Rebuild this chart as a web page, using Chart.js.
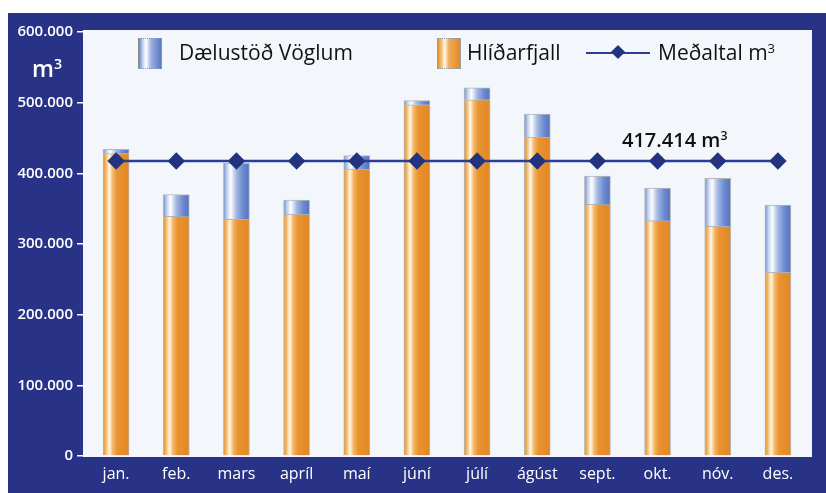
<!DOCTYPE html>
<html>
<head>
<meta charset="utf-8">
<script src="https://cdn.jsdelivr.net/npm/chart.js@4/dist/chart.umd.min.js"></script>
<style>
  html, body { margin: 0; padding: 0; background: #fff; }
  #wrap { position: relative; width: 826px; height: 493px; overflow: hidden; font-family: "Open Sans", "Noto Sans", sans-serif; }
  #frame { position: absolute; left: 8px; top: 13px; width: 818px; height: 480px; background: #283388; }
  #c { position: absolute; left: 0; top: 0; }
  .txt { position: absolute; white-space: nowrap; color: #111; font-weight: 500; }
  .sw { position: absolute; width: 24px; height: 31px; border: 1px dotted #999; box-sizing: border-box; }
  #unit { position: absolute; left: 32px; top: 52px; color: #fff; font-size: 23px; font-weight: 600; }
  #unit sup, .txt sup { font-size: 0.62em; vertical-align: 0.55em; }
</style>
</head>
<body>
<div id="wrap">
  <div id="frame"></div>
  <canvas id="c" width="826" height="493"></canvas>
  <div id="unit">m<sup>3</sup></div>

  <div class="sw" style="left:138px;top:38px;background:linear-gradient(to right,#6a88cf 0%,#d9e4f6 22%,#ffffff 32%,#9ab0e0 55%,#5a78c6 100%);"></div>
  <div class="txt" style="left:179px;top:38px;font-size:21px;">Dælustöð Vöglum</div>

  <div class="sw" style="left:437px;top:38px;background:linear-gradient(to right,#e68f2e 0%,#f8cf90 20%,#fff8e8 30%,#f1ab55 50%,#e58a27 100%);"></div>
  <div class="txt" style="left:467px;top:38px;font-size:21px;">Hlíðarfjall</div>

  <div style="position:absolute;left:586px;top:52px;width:64px;height:2px;background:#2b3d97;"></div>
  <div style="position:absolute;left:613px;top:47px;width:10px;height:10px;background:#22337f;transform:rotate(45deg);"></div>
  <div class="txt" style="left:658px;top:38px;font-size:21px;">Meðaltal m<sup>3</sup></div>

  <div class="txt" style="left:622px;top:126px;font-size:20px;font-weight:600;">417.414 m<sup>3</sup></div>
</div>
<script>
const months = ['jan.', 'feb.', 'mars', 'apríl', 'maí', 'júní', 'júlí', 'ágúst', 'sept.', 'okt.', 'nóv.', 'des.'];
const hlidarfjall = [428000, 339000, 335000, 342000, 406000, 497000, 504000, 451000, 356000, 333000, 325000, 260000];
const daelustod = [6000, 31000, 79000, 20000, 19000, 6000, 17000, 33000, 40000, 46000, 68000, 95000];
const average = [417414, 417414, 417414, 417414, 417414, 417414, 417414, 417414, 417414, 417414, 417414, 417414];
const yTicks = [0, 100000, 200000, 300000, 400000, 500000, 600000];

const BAR_W = 26;

// horizontal shine across each bar, built from the x scale position
function shine(stops, fallback) {
    return (ctx) => {
        const chart = ctx.chart;
        const xs = chart.scales && chart.scales.x;
        if (!xs || ctx.dataIndex === undefined) return fallback;
        const cx = xs.getPixelForValue(ctx.dataIndex);
        if (!isFinite(cx)) return fallback;
        const g = chart.ctx.createLinearGradient(cx - BAR_W / 2, 0, cx + BAR_W / 2, 0);
        stops.forEach(s => g.addColorStop(s[0], s[1]));
        return g;
    };
}

const orangeStops = [[0, '#e68f2e'], [0.1, '#f2b462'], [0.24, '#fff7e4'], [0.38, '#f4b564'], [0.55, '#e99330'], [1, '#e28723']];
const blueStops = [[0, '#7090d2'], [0.14, '#c4d4f0'], [0.28, '#ffffff'], [0.5, '#a3b8e3'], [0.75, '#6d8bd0'], [1, '#5472c2']];

// light plot panel, a bit wider on the right than the category band
const plotBg = {
    id: 'plotBg',
    beforeDraw(chart) {
        const { ctx, chartArea: a } = chart;
        ctx.save();
        ctx.fillStyle = '#f3f7fb';
        ctx.fillRect(a.left - 3, a.top - 2, a.right - a.left + 7, a.bottom - a.top + 3);
        ctx.restore();
    }
};

new Chart(document.getElementById('c'), {
    type: 'bar',
    data: {
        labels: months,
        datasets: [
            {
                type: 'line',
                label: 'Meðaltal m³',
                data: average,
                stack: 'avg',
                order: 0,
                borderColor: '#2b3d97',
                borderWidth: 2.5,
                pointStyle: 'rectRot',
                pointRadius: 7,
                pointBackgroundColor: '#22337f',
                pointBorderColor: '#22337f',
                tension: 0
            },
            {
                label: 'Hlíðarfjall',
                data: hlidarfjall,
                stack: 'bars',
                order: 1,
                backgroundColor: shine(orangeStops, '#e8912e'),
                borderColor: 'rgba(130,130,130,0.55)',
                borderWidth: 1,
                barThickness: BAR_W
            },
            {
                label: 'Dælustöð Vöglum',
                data: daelustod,
                stack: 'bars',
                order: 1,
                backgroundColor: shine(blueStops, '#6a88cf'),
                borderColor: 'rgba(130,130,130,0.55)',
                borderWidth: 1,
                barThickness: BAR_W
            }
        ]
    },
    options: {
        responsive: false,
        animation: false,
        layout: { padding: { left: 11, top: 32, right: 18, bottom: 0 } },
        plugins: {
            legend: { display: false },
            tooltip: { enabled: false }
        },
        scales: {
            x: {
                stacked: true,
                grid: { display: false },
                border: { display: false },
                ticks: {
                    color: '#ffffff',
                    font: { family: 'Open Sans', size: 16, weight: '500' },
                    padding: 1
                },
                afterFit: (s) => { s.height = 37; }
            },
            y: {
                stacked: true,
                min: 0,
                max: 600000,
                afterBuildTicks: (s) => { s.ticks = yTicks.map(v => ({ value: v })); },
                grid: {
                    drawOnChartArea: false,
                    color: '#ffffff',
                    lineWidth: 1.5,
                    tickLength: 9
                },
                border: { display: false },
                ticks: {
                    color: '#ffffff',
                    font: { family: 'Open Sans', size: 15, weight: '600' },
                    padding: 4,
                    callback: (v) => v.toLocaleString('de-DE')
                },
                afterFit: (s) => { s.width = 75; }
            }
        }
    },
    plugins: [plotBg]
});
</script>
</body>
</html>
